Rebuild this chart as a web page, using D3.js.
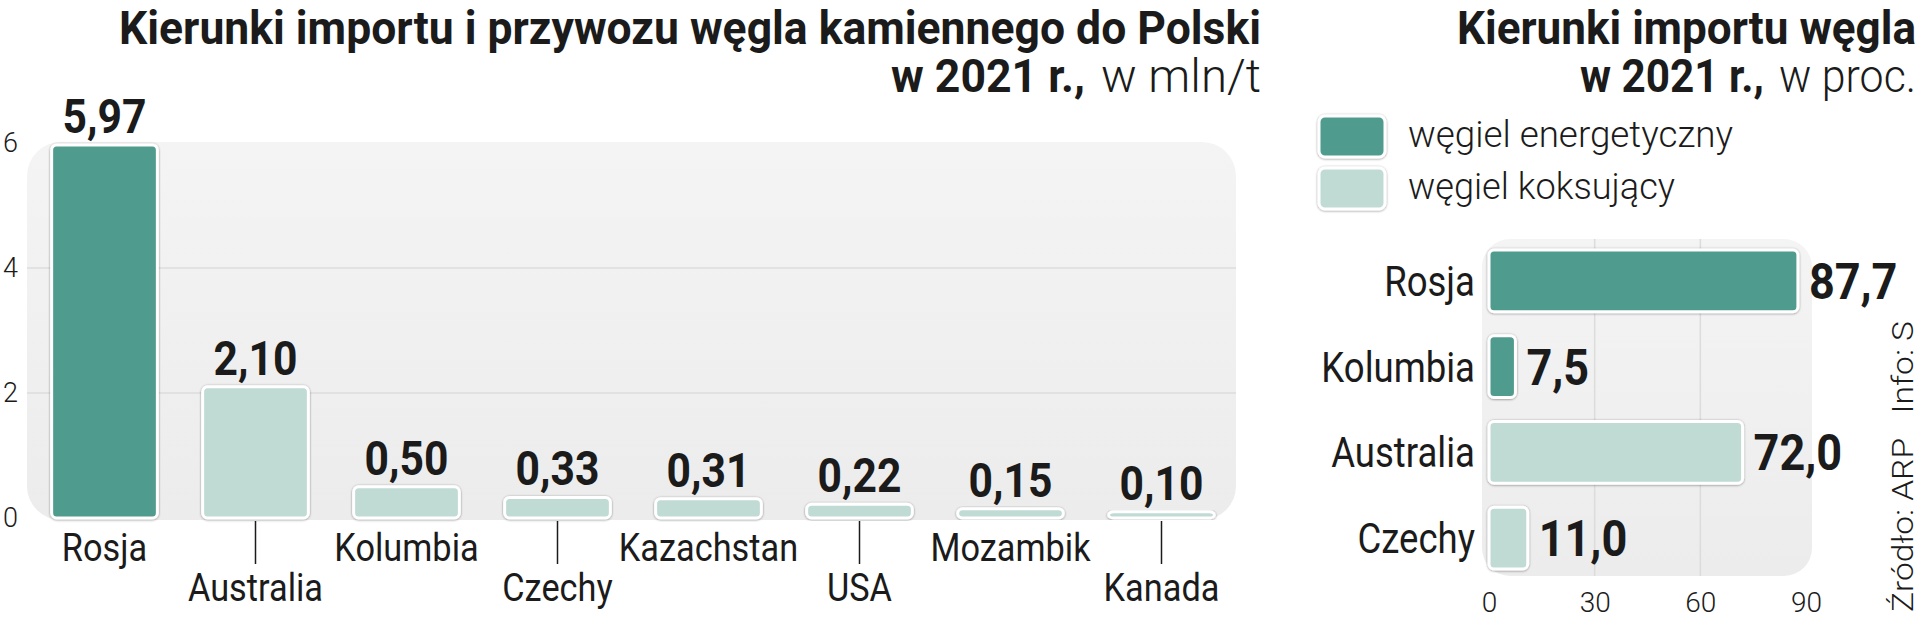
<!DOCTYPE html>
<html>
<head>
<meta charset="utf-8">
<script src="https://d3js.org/d3.v7.min.js"></script>
<style>
  body { margin: 0; background: #fff; }
  text { font-family: Roboto, "Noto Sans", sans-serif; fill: #1b1b1b; }
</style>
</head>
<body>
<div id="vis"></div>
<script>
// data - left chart (mln t)
var countries = ["Rosja", "Australia", "Kolumbia", "Czechy", "Kazachstan", "USA", "Mozambik", "Kanada"];
var volumes = [5.97, 2.10, 0.50, 0.33, 0.31, 0.22, 0.15, 0.10];
var yTicks = [0, 2, 4, 6];

// data - right chart (%)
var shareCountries = ["Rosja", "Kolumbia", "Australia", "Czechy"];
var shareValues = [87.7, 7.5, 72.0, 11.0];
var shareTypes = ["energetyczny", "energetyczny", "koksujący", "koksujący"];
var xTicks = [0, 30, 60, 90];
var coalTypes = ["energetyczny", "koksujący"];
var legendLabels = ["węgiel energetyczny", "węgiel koksujący"];

var dark = "#4f9b8d", light = "#c0dad4";
var color = d3.scaleOrdinal().domain(coalTypes).range([dark, light]);
var fmt = function (v, d) { return d3.format("." + d + "f")(v).replace(".", ","); };

var svg = d3.select("#vis").append("svg")
    .attr("width", 1920)
    .attr("height", 617);

var defs = svg.append("defs");
var sh = defs.append("filter").attr("id", "shadow")
    .attr("x", "-20%").attr("y", "-20%").attr("width", "140%").attr("height", "140%");
sh.append("feDropShadow").attr("dx", 0).attr("dy", 0.5).attr("stdDeviation", 1.3)
    .attr("flood-color", "#000").attr("flood-opacity", 0.45);
var grad = defs.append("linearGradient").attr("id", "panel")
    .attr("x1", 0).attr("y1", 0).attr("x2", 0).attr("y2", 1);
grad.append("stop").attr("offset", "0%").attr("stop-color", "#f4f4f4");
grad.append("stop").attr("offset", "100%").attr("stop-color", "#ececec");

// squeeze text horizontally (condensed look)
function squeeze(sel, k) {
    sel.each(function () {
        var w = this.getComputedTextLength();
        d3.select(this).attr("textLength", w * k).attr("lengthAdjust", "spacingAndGlyphs");
    });
}
function fit(sel, w) {
    sel.attr("textLength", w).attr("lengthAdjust", "spacingAndGlyphs");
}
function title(x0, yb, txt, w, weight) {
    fit(svg.append("text").attr("x", x0).attr("y", yb)
        .style("font-size", "46px").style("font-weight", weight).text(txt), w);
}

// ---------- titles ----------
title(119, 44, "Kierunki importu i przywozu węgla kamiennego do Polski", 1142, 700);
title(891, 92, "w 2021 r.,", 194, 700);
title(1101, 92, "w mln/t", 160, 300);
title(1457, 44, "Kierunki importu węgla", 459, 700);
title(1580, 92, "w 2021 r.,", 184, 700);
title(1779, 92, "w proc.", 137, 300);

// ---------- left chart ----------
var x = d3.scaleBand().domain(countries).range([29, 1237]).paddingInner(0.3).paddingOuter(0.15);
var y = d3.scaleLinear().domain([0, 6]).range([518, 143]);

svg.append("rect").attr("x", 27).attr("y", 142).attr("width", 1209).attr("height", 378)
    .attr("rx", 34).attr("fill", "url(#panel)");

svg.append("g").selectAll("line").data(yTicks.filter(function (d) { return d > 0 && d < 6; }))
    .enter().append("line")
    .attr("x1", 27).attr("x2", 1236)
    .attr("y1", function (d) { return y(d); }).attr("y2", function (d) { return y(d); })
    .attr("stroke", "#dcdcdc").attr("stroke-width", 1.5);

var yAxis = svg.append("g").attr("transform", "translate(18,0)")
    .call(d3.axisLeft(y).tickValues(yTicks).tickFormat(d3.format("d")).tickSize(0).tickPadding(0));
yAxis.select(".domain").remove();
yAxis.selectAll("text").style("font-size", "27px").style("font-weight", 300)
    .style("font-family", "Roboto, sans-serif").attr("fill", "#222");

var bars = svg.append("g");
bars.selectAll("rect").data(countries).enter().append("rect")
    .attr("x", function (d) { return x(d); })
    .attr("y", function (d, i) { return y(volumes[i]); })
    .attr("width", x.bandwidth())
    .attr("height", function (d, i) { return y(0) - y(volumes[i]); })
    .attr("rx", 5)
    .attr("fill", function (d, i) { return i === 0 ? dark : light; })
    .attr("stroke", "#fff").attr("stroke-width", 3)
    .attr("filter", "url(#shadow)");

var vals = bars.selectAll("text.val").data(countries).enter().append("text")
    .attr("class", "val")
    .attr("x", function (d) { return x(d) + x.bandwidth() / 2; })
    .attr("y", function (d, i) { return y(volumes[i]) - 12; })
    .attr("text-anchor", "middle")
    .style("font-size", "49px").style("font-weight", 700)
    .text(function (d, i) { return fmt(volumes[i], 2); });
squeeze(vals, 0.87);

var cats = bars.selectAll("text.cat").data(countries).enter().append("text")
    .attr("class", "cat")
    .attr("x", function (d) { return x(d) + x.bandwidth() / 2; })
    .attr("y", function (d, i) { return i % 2 ? 601 : 561; })
    .attr("text-anchor", "middle")
    .style("font-size", "39px").style("font-weight", 400)
    .text(function (d) { return d; });
squeeze(cats, 0.88);

bars.selectAll("line").data(countries.filter(function (d, i) { return i % 2; }))
    .enter().append("line")
    .attr("x1", function (d) { return x(d) + x.bandwidth() / 2; })
    .attr("x2", function (d) { return x(d) + x.bandwidth() / 2; })
    .attr("y1", 521).attr("y2", 564)
    .attr("stroke", "#1b1b1b").attr("stroke-width", 1.5);

// ---------- legend ----------
var leg = svg.append("g").selectAll("g").data(coalTypes).enter().append("g")
    .attr("transform", function (d, i) { return "translate(1319," + (116 + i * 52) + ")"; });
leg.append("rect").attr("width", 66).attr("height", 41).attr("rx", 6)
    .attr("fill", function (d) { return color(d); })
    .attr("stroke", "#fff").attr("stroke-width", 3).attr("filter", "url(#shadow)");
leg.append("text").attr("x", 89).attr("y", 31)
    .style("font-size", "36px").style("font-weight", 300)
    .text(function (d, i) { return legendLabels[i]; })
    .each(function (d, i) { fit(d3.select(this), [325, 267][i]); });

// ---------- right chart ----------
var x2 = d3.scaleLinear().domain([0, 90]).range([1489, 1806]);
var y2 = d3.scaleBand().domain(shareCountries).range([238, 581]).paddingInner(0.28).paddingOuter(0.14);

svg.append("rect").attr("x", 1482).attr("y", 239).attr("width", 330).attr("height", 337)
    .attr("rx", 28).attr("fill", "url(#panel)");

svg.append("g").selectAll("line").data(xTicks.filter(function (d) { return d > 0 && d < 90; }))
    .enter().append("line")
    .attr("x1", function (d) { return x2(d); }).attr("x2", function (d) { return x2(d); })
    .attr("y1", 239).attr("y2", 576)
    .attr("stroke", "#dcdcdc").attr("stroke-width", 1.5);

var xAxis = svg.append("g").attr("transform", "translate(0,592)")
    .call(d3.axisBottom(x2).tickValues(xTicks).tickSize(0).tickPadding(0));
xAxis.select(".domain").remove();
xAxis.selectAll("text").style("font-size", "28px").style("font-weight", 300)
    .style("font-family", "Roboto, sans-serif").attr("fill", "#222");

var hb = svg.append("g");
hb.selectAll("rect").data(shareCountries).enter().append("rect")
    .attr("x", x2(0))
    .attr("y", function (d) { return y2(d); })
    .attr("width", function (d, i) { return x2(shareValues[i]) - x2(0); })
    .attr("height", y2.bandwidth())
    .attr("rx", 5)
    .attr("fill", function (d, i) { return color(shareTypes[i]); })
    .attr("stroke", "#fff").attr("stroke-width", 3)
    .attr("filter", "url(#shadow)");

var hv = hb.selectAll("text.val").data(shareCountries).enter().append("text")
    .attr("class", "val")
    .attr("x", function (d, i) { return x2(shareValues[i]) + 11; })
    .attr("y", function (d) { return y2(d) + y2.bandwidth() / 2 + 18; })
    .style("font-size", "50px").style("font-weight", 700)
    .text(function (d, i) { return fmt(shareValues[i], 1); });
squeeze(hv, 0.9);

var hc = hb.selectAll("text.cat").data(shareCountries).enter().append("text")
    .attr("class", "cat")
    .attr("x", 1475)
    .attr("y", function (d) { return y2(d) + y2.bandwidth() / 2 + 15; })
    .attr("text-anchor", "end")
    .style("font-size", "42px").style("font-weight", 400)
    .text(function (d) { return d; });
squeeze(hc, 0.87);

// source
var src = svg.append("text").attr("transform", "translate(1913,612) rotate(-90)")
    .style("font-size", "30px").style("font-weight", 300);
src.append("tspan").text("Źródło: ARP");
src.append("tspan").attr("dx", 22).text("Info: S");
fit(src, 291);
</script>
</body>
</html>
